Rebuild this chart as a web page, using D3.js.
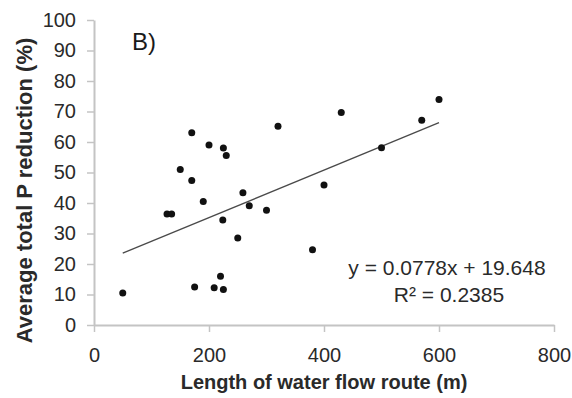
<!DOCTYPE html>
<html>
<head>
<meta charset="utf-8">
<script src="https://cdn.jsdelivr.net/npm/d3@7"></script>
<style>
  body { margin: 0; background: #fff; }
  text { font-family: "Liberation Sans", Arial, sans-serif; }
</style>
</head>
<body>
<script>
// longueur du trajet de l'eau (m) et réduction moyenne du P total (%)
const flowLength = [50, 127, 135, 150, 170, 170, 175, 190, 200, 209, 220, 224, 225, 225, 230,
  250, 259, 270, 300, 320, 380, 400, 430, 500, 570, 600];
const pReduction = [10.5, 36.4, 36.4, 51, 63, 47.4, 12.5, 40.5, 59, 12.2, 16, 34.4, 58, 11.6, 55.6,
  28.5, 43.4, 39.1, 37.6, 65.2, 24.7, 45.9, 69.7, 58.1, 67.1, 73.9];
const xTicks = [0, 200, 400, 600, 800];
const yTicks = [0, 10, 20, 30, 40, 50, 60, 70, 80, 90, 100];
const slope = 0.0778, intercept = 19.648, r2 = 0.2385;

const margin = { top: 20, right: 18, bottom: 73, left: 94 },
  width = 572 - margin.left - margin.right,
  height = 398 - margin.top - margin.bottom;

const svg = d3.select('body').append('svg')
  .attr('width', 572)
  .attr('height', 398);

const g = svg.append('g')
  .attr('transform', `translate(${margin.left},${margin.top})`);

const x = d3.scaleLinear().domain([0, 800]).range([0, width]);
const y = d3.scaleLinear().domain([0, 100]).range([height, 0]);

// axes
const xAxis = g.append('g')
  .attr('transform', `translate(0,${height})`)
  .call(d3.axisBottom(x).tickValues(xTicks).tickSize(7).tickSizeOuter(0).tickPadding(12));
const yAxis = g.append('g')
  .call(d3.axisLeft(y).tickValues(yTicks).tickSize(7).tickSizeOuter(0).tickPadding(11));

[xAxis, yAxis].forEach(a => {
  a.select('.domain').attr('stroke', '#c4c4c4').attr('stroke-width', 2);
  a.selectAll('.tick line').attr('stroke', '#c4c4c4').attr('stroke-width', 1.5);
  a.selectAll('.tick text')
    .attr('fill', '#2a2a2a')
    .style('font-size', '20px');
});
xAxis.selectAll('.tick text').attr('dy', '0.9em');

// droite de tendance
const xs = d3.extent(flowLength);
g.append('line')
  .attr('x1', x(xs[0])).attr('y1', y(slope * xs[0] + intercept))
  .attr('x2', x(xs[1])).attr('y2', y(slope * xs[1] + intercept))
  .attr('stroke', '#4a4a4a')
  .attr('stroke-width', 1.3);

// points
g.selectAll('circle')
  .data(flowLength.map((d, i) => [d, pReduction[i]]))
  .join('circle')
  .attr('cx', d => x(d[0]))
  .attr('cy', d => y(d[1]))
  .attr('r', 3.5)
  .attr('fill', '#111');

// équation
g.append('text')
  .attr('x', 353).attr('y', 255)
  .attr('text-anchor', 'middle')
  .attr('fill', '#2a2a2a')
  .style('font-size', '21px')
  .text(`y = ${slope}x + ${intercept}`);
g.append('text')
  .attr('x', 355).attr('y', 282)
  .attr('text-anchor', 'middle')
  .attr('fill', '#2a2a2a')
  .style('font-size', '21px')
  .text(`R² = ${r2}`);

// étiquette du panneau
g.append('text')
  .attr('x', 38).attr('y', 30)
  .attr('fill', '#1a1a1a')
  .style('font-size', '24px')
  .text('B)');

// titres des axes
svg.append('text')
  .attr('x', margin.left + width / 2)
  .attr('y', 389)
  .attr('text-anchor', 'middle')
  .attr('fill', '#2a2a2a')
  .style('font-size', '20px')
  .style('font-weight', 'bold')
  .text('Length of water flow route (m)');

svg.append('text')
  .attr('transform', `translate(32,${margin.top + height / 2 + 18}) rotate(-90)`)
  .attr('text-anchor', 'middle')
  .attr('fill', '#2a2a2a')
  .style('font-size', '22px')
  .style('font-weight', 'bold')
  .text('Average total P reduction (%)');
</script>
</body>
</html>
